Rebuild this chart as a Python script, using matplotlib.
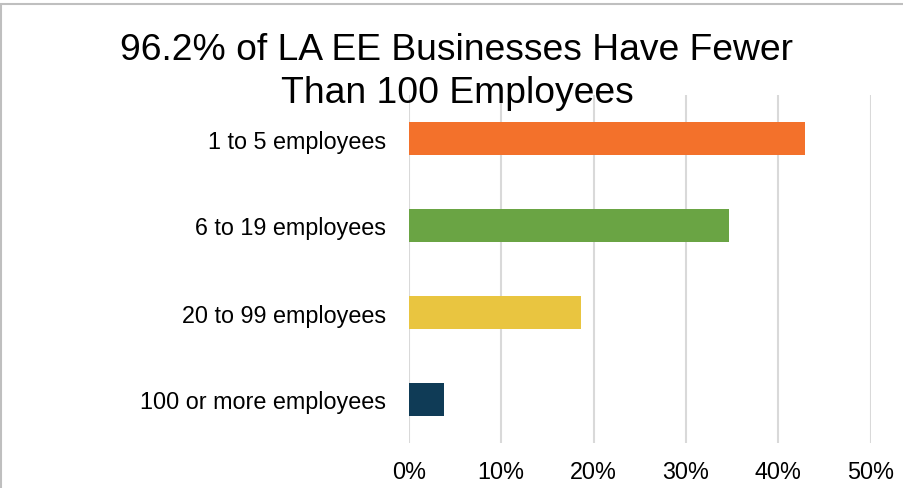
import matplotlib
matplotlib.use('Agg')
from matplotlib import pyplot as plt
from matplotlib.patches import Rectangle
from matplotlib.ticker import PercentFormatter

plt.rcParams['font.family'] = ['Liberation Sans', 'DejaVu Sans']

categories = ['1 to 5 employees', '6 to 19 employees', '20 to 99 employees', '100 or more employees']
shares = [42.9, 34.7, 18.6, 3.8]
colors = ['#F3712B', '#6AA444', '#E9C540', '#0F3B56']
ticks = [0, 10, 20, 30, 40, 50]
title_lines = ['96.2% of LA EE Businesses Have Fewer', 'Than 100 Employees']

W, H = 904, 489
fig = plt.figure(figsize=(W / 100, H / 100), dpi=100)

# axes placed in pixel terms of the reference
left, right, top, bottom = 408.7, 870.7, 96, 444
ax = fig.add_axes([left / W, 1 - bottom / H, (right - left) / W, (bottom - top) / H])

y = range(len(categories))
ax.barh(y, shares, height=0.37, color=colors, zorder=3)
ax.set_ylim(len(categories) - 0.5, -0.5)
ax.set_yticks(list(y))
ax.set_yticklabels(categories, fontsize=16.8)
ax.set_xlim(0, 50)
ax.set_xticks(ticks)
ax.xaxis.set_major_formatter(PercentFormatter(decimals=0))
ax.tick_params(axis='x', labelsize=16.8, length=0, pad=12)
ax.tick_params(axis='y', length=0, pad=16.5)
ax.grid(axis='x', color='#D9D9D9', linewidth=1.5, zorder=0)
for s in ax.spines.values():
    s.set_visible(False)

for line, base in zip(title_lines, [60, 102.7]):
    fig.text(457 / W, 1 - base / H, line, ha='center', va='baseline', fontsize=26.8)

# chart border (cut off at right and bottom in the reference)
fig.patches.append(Rectangle((1.5 / W, -0.1), 1.2, 1 - 5 / H + 0.1, transform=fig.transFigure,
                             fill=False, edgecolor='#BFBFBF', linewidth=1.5))

fig.savefig('out.png', dpi=100)
